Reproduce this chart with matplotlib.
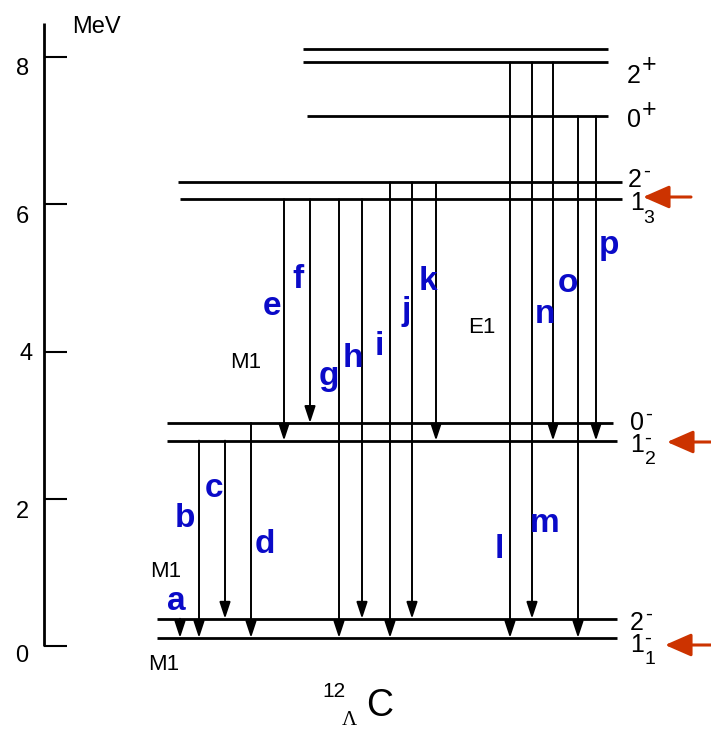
import matplotlib
matplotlib.use("Agg")
import matplotlib.pyplot as plt

plt.rcParams['font.family'] = ['Liberation Sans', 'DejaVu Sans']

# ---------------- data ----------------
level_energy = [0.11, 0.37, 2.79, 3.03, 6.07, 6.30, 7.20, 7.93, 8.11]   # MeV
transition_labels = list("abcdefghijklmnop")
transition_from = [1, 2, 2, 3, 4, 4, 4, 4, 5, 5, 5, 7, 7, 7, 6, 6]
transition_to   = [0, 0, 1, 0, 2, 3, 0, 1, 0, 1, 2, 0, 1, 2, 0, 2]
axis_ticks = [0, 2, 4, 6, 8]
multipolarity_labels = ["M1", "M1", "M1", "E1"]

# ---------------- layout (pixel units horizontally) ----------------
W, H = 711, 731
Y0, SCALE = 646.0, 73.6          # pixel row of 0 MeV, pixels per MeV

def py(p):
    return (Y0 - p) / SCALE

level_extent = [(157, 617), (157, 617), (167, 617), (167, 613), (180, 622),
                (178, 622), (307, 608), (303, 608), (303, 608)]
transition_x = [180, 199, 225, 251, 284, 310, 339, 362, 390, 412, 436,
                510, 532, 553, 578, 596]
label_pos = [(176, 610), (185, 527), (214, 497), (265, 553), (272, 315),
             (298, 288), (329, 385), (353, 367), (379, 355), (406, 320),
             (428, 290), (499, 558), (545, 532), (545, 323), (568, 292),
             (609, 254)]
mult_pos = [(150, 577), (148, 670), (230, 368), (468, 333)]

BLUE = '#0a0ac8'
RED = '#cc3300'

fig = plt.figure(figsize=(W / 100, H / 100), dpi=100)
ax = fig.add_axes([0, 0, 1, 1])
ax.set_xlim(0, W)
ax.set_ylim(py(H), py(0))
ax.axis('off')

# energy axis
ax.plot([44, 44], [0, py(23)], color='k', lw=2.0, solid_capstyle='butt')
tick_lab_x = {0: 22, 2: 22, 4: 26, 6: 22, 8: 23}
tick_lab_off = {0: 16, 2: 19, 4: 8, 6: 19, 8: 18}
for t in axis_ticks:
    ax.plot([44, 67], [t, t], color='k', lw=1.5, solid_capstyle='butt')
    ax.text(tick_lab_x[t], py(Y0 - SCALE * t + tick_lab_off[t]), str(t),
            ha='center', va='baseline', fontsize=17)
ax.text(72, py(33), "MeV", ha='left', va='baseline', fontsize=17)

# levels
for e, (x0, x1) in zip(level_energy, level_extent):
    ax.plot([x0, x1], [e, e], color='k', lw=2.0, solid_capstyle='butt')

# transitions
for lab, i0, i1, x, (lx, ly) in zip(transition_labels, transition_from,
                                     transition_to, transition_x, label_pos):
    ax.annotate('', xy=(x, level_energy[i1]), xytext=(x, level_energy[i0]),
                arrowprops=dict(arrowstyle='-|>,head_length=1.0,head_width=0.33',
                                color='k', lw=1.4, shrinkA=0, shrinkB=0))
    ax.text(lx, py(ly), lab, ha='center', va='baseline', fontsize=24,
            fontweight='bold', color=BLUE)

for lab, (lx, ly) in zip(multipolarity_labels, mult_pos):
    ax.text(lx, py(ly), lab, ha='left', va='baseline', fontsize=16)

# spin-parity labels: (main, x, baseline, sup, sx, sbase, sub, bx, bbase)
spin_labels = [
    ("2", 627, 83, "+", 642, 72, "", 0, 0),
    ("0", 627, 127, "+", 642, 117, "", 0, 0),
    ("2", 628, 187, "-", 643, 177, "", 0, 0),
    ("1", 630, 210, "", 0, 0, "3", 643, 223),
    ("0", 630, 430, "-", 645, 420, "", 0, 0),
    ("1", 630, 452, "-", 644, 444, "2", 645, 464),
    ("2", 630, 630, "-", 645, 620, "", 0, 0),
    ("1", 630, 652, "-", 644, 644, "1", 645, 664),
]
for m, mx, mb, s, sx, sb, b, bx, bb in spin_labels:
    ax.text(mx, py(mb), m, ha='left', va='baseline', fontsize=18)
    if s:
        ax.text(sx, py(sb), s, ha='left', va='baseline', fontsize=18 if s == '+' else 15)
    if b:
        ax.text(bx, py(bb), b, ha='left', va='baseline', fontsize=14)

# red arrows marking the observed 1- states
red_arrows = [((691, 197), (643, 197)), ((711, 442), (667, 442)), ((711, 645), (665, 645))]
for (tx, ty), (hx, hy) in red_arrows:
    ax.annotate('', xy=(hx, py(hy)), xytext=(tx, py(ty)),
                arrowprops=dict(arrowstyle='-|>,head_length=1.6,head_width=0.7',
                                color=RED, lw=2.2, shrinkA=0, shrinkB=0))

# nucleus name
ax.text(366, py(716), "C", ha='left', va='baseline', fontsize=27)
ax.text(322, py(697), "12", ha='left', va='baseline', fontsize=15)
ax.text(349, py(730), "Λ", ha='center', va='bottom', fontsize=15,
        family=['Liberation Serif', 'DejaVu Serif'])

fig.savefig("out.png", dpi=100)
